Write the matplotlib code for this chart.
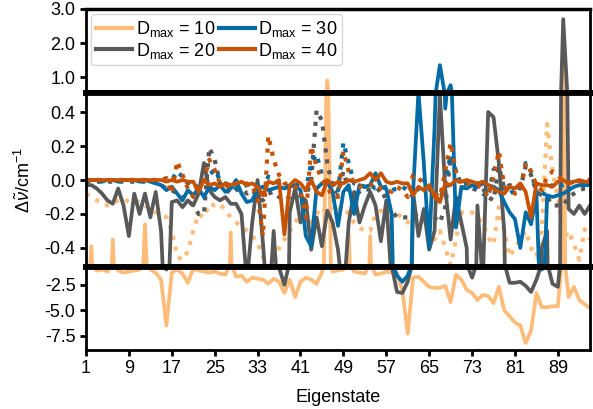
import matplotlib
matplotlib.use("Agg")
import matplotlib.pyplot as plt
import numpy as np

plt.rcParams['font.family'] = ['Liberation Sans', 'DejaVu Sans']
plt.rcParams['mathtext.fontset'] = 'custom'
plt.rcParams['mathtext.rm'] = 'Liberation Sans'
plt.rcParams['mathtext.it'] = 'Liberation Sans:italic'
plt.rcParams['font.size'] = 13

eigenstate = np.arange(1, 96)
x_ticks = list(range(1, 96, 8))
labels = ['D$_{\\mathrm{max}}$ = 10', 'D$_{\\mathrm{max}}$ = 20',
          'D$_{\\mathrm{max}}$ = 30', 'D$_{\\mathrm{max}}$ = 40']
colors = ['#FFBC79', '#595959', '#006BA4', '#C85200']

# D_max = 10
solid_10 = [-1.0, -0.39, -1.1, -1.0, -1.2, -0.35, -1.1, -1.3, -1.2, -1.1,
            -1.0, -0.26, -1.0, -1.3, -2.0, -6.5, -1.3, -1.0, -1.4, -2.3,
            -0.9, -1.1, -1.2, -1.3, -1.2, -1.4, -1.5, -0.31, -1.7, -1.6,
            -2.2, -1.8, -1.9, -2.0, -2.4, -1.9, -2.2, -3.3, -2.0, -3.7,
            -2.2, -1.8, -2.0, -2.4, -1.3, 0.9, -1.2, -1.1, -1.0, -0.32,
            -1.2, -1.3, -1.4, -0.33, -1.5, -1.4, -1.2, -1.3, -1.4, -3.0,
            -7.3, -1.8, -1.7, -2.2, -2.7, -2.8, -2.8, -2.6, -4.2, -1.5,
            -2.0, -3.0, -3.3, -4.0, -3.5, -3.6, -4.3, -2.7, -5.0, -5.6,
            -6.2, -6.5, -8.2, -7.0, -3.3, -4.7, -4.7, -4.6, -4.6, 1.3,
            -3.7, -2.7, -4.0, -4.4, -4.8]
dotted_10 = [-0.08, -0.10, -0.12, -0.13, -0.15, -0.14, -0.12, -0.11, -0.13, -0.12,
             -0.13, -0.15, -0.17, -0.19, -0.2, -0.22, -0.3, -0.45, -0.47, -0.42,
             -0.3, -0.2, -0.22, -0.14, -0.15, -0.14, -0.18, -0.22, -0.25, -0.27,
             -0.3, -0.33, -0.37, -0.45, -0.55, -0.5, -0.4, -0.35, -0.3, -0.25,
             -0.2, -0.22, -0.25, -0.2, -0.16, -0.2, -0.15, -0.17, -0.16, -0.2,
             -0.25, -0.28, -0.3, -0.3, -0.2, -0.18, -0.2, -0.18, -0.2, -0.22,
             -0.25, -0.22, -0.2, -0.25, -0.3, -0.35, -0.3, -0.4, -0.5, -0.35,
             -0.19, -0.2, -0.19, -0.22, -0.25, -0.34, -0.38, -0.16, -0.3, -0.45,
             -0.4, -0.35, -0.3, -0.4, -0.45, -0.3, 0.33, 0.05, -0.1, -0.35,
             -0.3, -0.38, -0.47, -0.29, -0.35]

# D_max = 20
solid_20 = [-0.03, -0.03, -0.05, -0.08, -0.12, -0.14, -0.05, -0.15, -0.33, -0.08,
            -0.2, -0.08, -0.22, -0.07, -0.3, -1.0, -0.13, -0.12, -0.16, -0.12,
            -0.15, -0.08, 0.1, -0.06, -0.1, -0.12, -0.1, -0.14, -0.14, -0.2,
            -0.6, -0.25, 0.0, -0.37, -0.8, -0.3, -0.8, -2.5, -0.19, -0.05,
            -0.25, -0.12, -0.41, -0.22, -0.39, -0.18, -0.25, -0.41, -0.7, -0.25,
            -0.07, -0.25, -0.15, -0.07, -0.15, -0.36, -0.12, -0.6, -3.2, -3.3,
            -2.2, -0.07, -0.33, -0.17, -0.41, -0.3, 0.5, -0.05, -0.35, -0.1,
            -0.25, -0.4, -1.8, -0.15, -0.6, 0.4, 0.37, 0.1, -0.3, -2.3,
            -2.3, -2.2, -2.6, -3.2, -2.0, -0.4, -0.3, -2.4, -2.7, 2.7,
            -0.17, -0.2, -0.15, -0.2, -0.15]
dotted_20 = [-0.01, -0.01, -0.01, -0.01, -0.01, -0.01, -0.01, -0.01, -0.01, -0.01,
             -0.01, -0.01, -0.01, -0.01, -0.03, -0.05, -0.06, -0.08, -0.1, -0.12,
             -0.15, -0.2, -0.2, 0.19, 0.12, -0.02, -0.05, -0.08, -0.06, -0.05,
             -0.08, -0.06, -0.1, -0.12, -0.08, -0.07, -0.1, -0.12, -0.1, -0.08,
             -0.13, -0.1, 0.0, 0.41, 0.35, 0.1, -0.05, -0.08, 0.05, -0.06,
             -0.05, -0.07, -0.05, -0.06, -0.07, -0.05, -0.12, -0.18, -0.22, -0.22,
             -0.22, -0.2, -0.21, -0.21, -0.2, -0.22, -0.25, -0.16, 0.14, 0.05,
             -0.05, -0.04, -0.05, -0.06, -0.05, -0.1, -0.12, 0.08, -0.05, -0.03,
             -0.04, -0.05, 0.08, 0.03, -0.07, -0.09, -0.1, -0.15, -0.15, -0.15,
             -0.1, -0.08, -0.06, -0.05, -0.05]

# D_max = 30
solid_30 = [0.0, 0.0, 0.0, -0.01, 0.0, 0.0, -0.01, 0.0, 0.0, 0.0,
            -0.01, 0.0, -0.01, -0.02, -0.03, -0.06, -0.04, -0.08, -0.12, -0.06,
            -0.09, -0.05, -0.1, -0.04, -0.06, -0.03, -0.07, -0.05, 0.0, -0.08,
            -0.13, -0.12, -0.05, -0.04, -0.06, -0.05, -0.04, -0.05, -0.04, -0.03,
            -0.06, -0.33, -0.39, -0.05, -0.02, -0.01, -0.07, -0.27, -0.07, -0.03,
            -0.2, -0.03, -0.04, -0.03, 0.04, -0.04, -0.05, -0.2, -1.6, -2.2,
            -1.6, -0.07, 0.52, 0.1, -0.4, 0.3, 1.35, 0.42, 0.76, -0.28,
            -0.04, -0.05, -0.03, -0.04, -0.02, -0.03, -0.04, -0.06, -0.13, -0.19,
            -0.23, -0.4, -0.19, -0.26, -0.08, -1.0, -0.09, -0.1, -0.09, -0.08,
            -0.06, -0.04, -0.03, -0.03, -0.03]
dotted_30 = [0.0, 0.0, 0.0, 0.0, 0.0, 0.0, 0.0, 0.0, 0.0, 0.0,
             0.0, 0.0, 0.0, 0.0, 0.0, 0.01, 0.0, 0.05, 0.02, -0.02,
             -0.05, -0.03, -0.02, 0.03, 0.06, 0.0, -0.02, -0.03, -0.05, -0.04,
             -0.03, -0.02, -0.03, -0.06, 0.02, 0.0, -0.02, -0.03, -0.04, -0.02,
             -0.05, -0.06, 0.1, 0.15, 0.03, -0.03, -0.02, -0.07, 0.22, 0.1,
             -0.02, -0.03, -0.04, -0.03, -0.05, -0.05, -0.04, -0.06, -0.05, -0.04,
             -0.06, -0.1, -0.05, 0.0, -0.05, -0.1, -0.12, -0.02, 0.15, 0.05,
             -0.03, -0.02, -0.03, -0.05, -0.08, -0.1, 0.06, 0.1, -0.05, -0.08,
             -0.06, -0.05, 0.1, 0.05, -0.07, -0.1, -0.05, -0.03, -0.02, -0.03,
             -0.02, -0.01, -0.02, -0.01, -0.01]

# D_max = 40
solid_40 = [0.0, 0.0, 0.0, 0.0, 0.0, 0.0, 0.0, 0.0, 0.0, 0.0,
            0.0, 0.0, 0.0, 0.0, 0.0, -0.01, 0.0, -0.01, 0.0, -0.01,
            -0.01, -0.07, 0.0, -0.03, -0.02, -0.04, -0.02, -0.03, -0.02, -0.01,
            -0.03, -0.02, -0.04, -0.09, -0.01, -0.02, 0.0, -0.32, -0.03, 0.0,
            -0.02, -0.06, 0.0, -0.07, -0.09, 0.0, -0.03, -0.01, -0.02, 0.0,
            -0.01, 0.0, 0.01, 0.04, 0.0, 0.04, -0.01, -0.02, -0.01, -0.02,
            -0.02, -0.09, -0.04, -0.06, -0.03, -0.1, -0.13, -0.02, -0.03, 0.0,
            -0.01, 0.0, -0.01, -0.02, -0.01, -0.03, -0.05, -0.07, -0.08, -0.04,
            -0.05, -0.02, -0.07, -0.22, -0.02, -0.03, -0.03, -0.04, -0.01, 0.0,
            -0.02, -0.01, 0.0, -0.01, -0.01]
dotted_40 = [0.0, 0.0, 0.0, 0.0, 0.0, 0.0, 0.0, 0.0, 0.0, 0.0,
             0.0, 0.0, 0.0, 0.0, 0.0, 0.01, -0.08, 0.11, 0.03, -0.05,
             -0.1, -0.02, 0.0, 0.12, 0.06, -0.02, -0.03, -0.05, -0.02, -0.03,
             -0.02, -0.04, -0.1, -0.33, 0.26, 0.12, 0.03, -0.02, -0.03, -0.04,
             -0.06, -0.22, 0.2, 0.08, 0.0, -0.04, -0.1, -0.1, 0.17, 0.05,
             -0.02, -0.04, -0.03, -0.03, -0.02, -0.05, -0.06, -0.07, -0.04, -0.06,
             -0.1, 0.03, 0.01, -0.02, -0.05, -0.08, -0.1, 0.05, 0.22, 0.05,
             -0.03, -0.02, -0.02, -0.03, -0.05, -0.1, 0.02, 0.17, -0.04, -0.06,
             -0.08, -0.07, 0.1, 0.05, -0.03, -0.06, 0.02, 0.05, 0.03, -0.01,
             -0.02, 0.0, -0.01, 0.0, 0.0]

solid = [solid_10, solid_20, solid_30, solid_40]
dotted = [dotted_10, dotted_20, dotted_30, dotted_40]

fig = plt.figure(figsize=(5.93, 4.09), dpi=100)
left, width = 0.145, 0.850
ax_top = fig.add_axes([left, 0.7726, width, 0.2054])
ax_mid = fig.add_axes([left, 0.3472, width, 0.4254])
ax_bot = fig.add_axes([left, 0.1443, width, 0.2029])
axes = [ax_top, ax_mid, ax_bot]

for ax in axes:
    for k in range(4):
        ax.plot(eigenstate, solid[k], color=colors[k], lw=2.7, label=labels[k])
        ax.plot(eigenstate, dotted[k], color=colors[k], lw=3.0, ls=':')
    ax.set_xlim(1, 95)
    for side in ['left', 'right', 'top', 'bottom']:
        ax.spines[side].set_color('black')
        ax.spines[side].set_linewidth(2)
    ax.tick_params(axis='y', direction='out', length=4, width=2, labelsize=13)
    ax.tick_params(axis='x', direction='out', length=4, width=2, labelsize=13)

ax_top.set_ylim(0.53, 3.0)
ax_top.set_yticks([1.0, 2.0, 3.0])
ax_top.set_yticklabels(['1.0', '2.0', '3.0'])
ax_top.spines['top'].set_linewidth(2.5)
ax_top.spines['bottom'].set_linewidth(4.2)
ax_top.set_xticks([])

ax_mid.set_ylim(-0.512, 0.512)
ax_mid.set_yticks([-0.4, -0.2, 0.0, 0.2, 0.4])
ax_mid.set_yticklabels(['-0.4', '-0.2', '0.0', '0.2', '0.4'])
ax_mid.spines['top'].set_linewidth(4.2)
ax_mid.spines['bottom'].set_linewidth(4.2)
ax_mid.set_xticks([])
ax_mid.set_ylabel('$\\it{\\Delta\\tilde{\\nu}}$/cm$^{-1}$', fontsize=13, labelpad=8)

ax_bot.set_ylim(-8.9, -0.75)
ax_bot.set_yticks([-7.5, -5.0, -2.5])
ax_bot.set_yticklabels(['-7.5', '-5.0', '-2.5'])
ax_bot.spines['top'].set_linewidth(4.2)
ax_bot.set_xticks(x_ticks)
ax_bot.set_xlabel('Eigenstate', fontsize=13, labelpad=8)

leg = ax_top.legend(loc='upper left', ncol=2, fontsize=13, handlelength=2.0,
                    handletextpad=0.2, columnspacing=0.2, borderpad=0.25,
                    labelspacing=0.1, borderaxespad=0.3)
for line in leg.get_lines():
    line.set_linewidth(3)

fig.savefig('out.png', dpi=100)
